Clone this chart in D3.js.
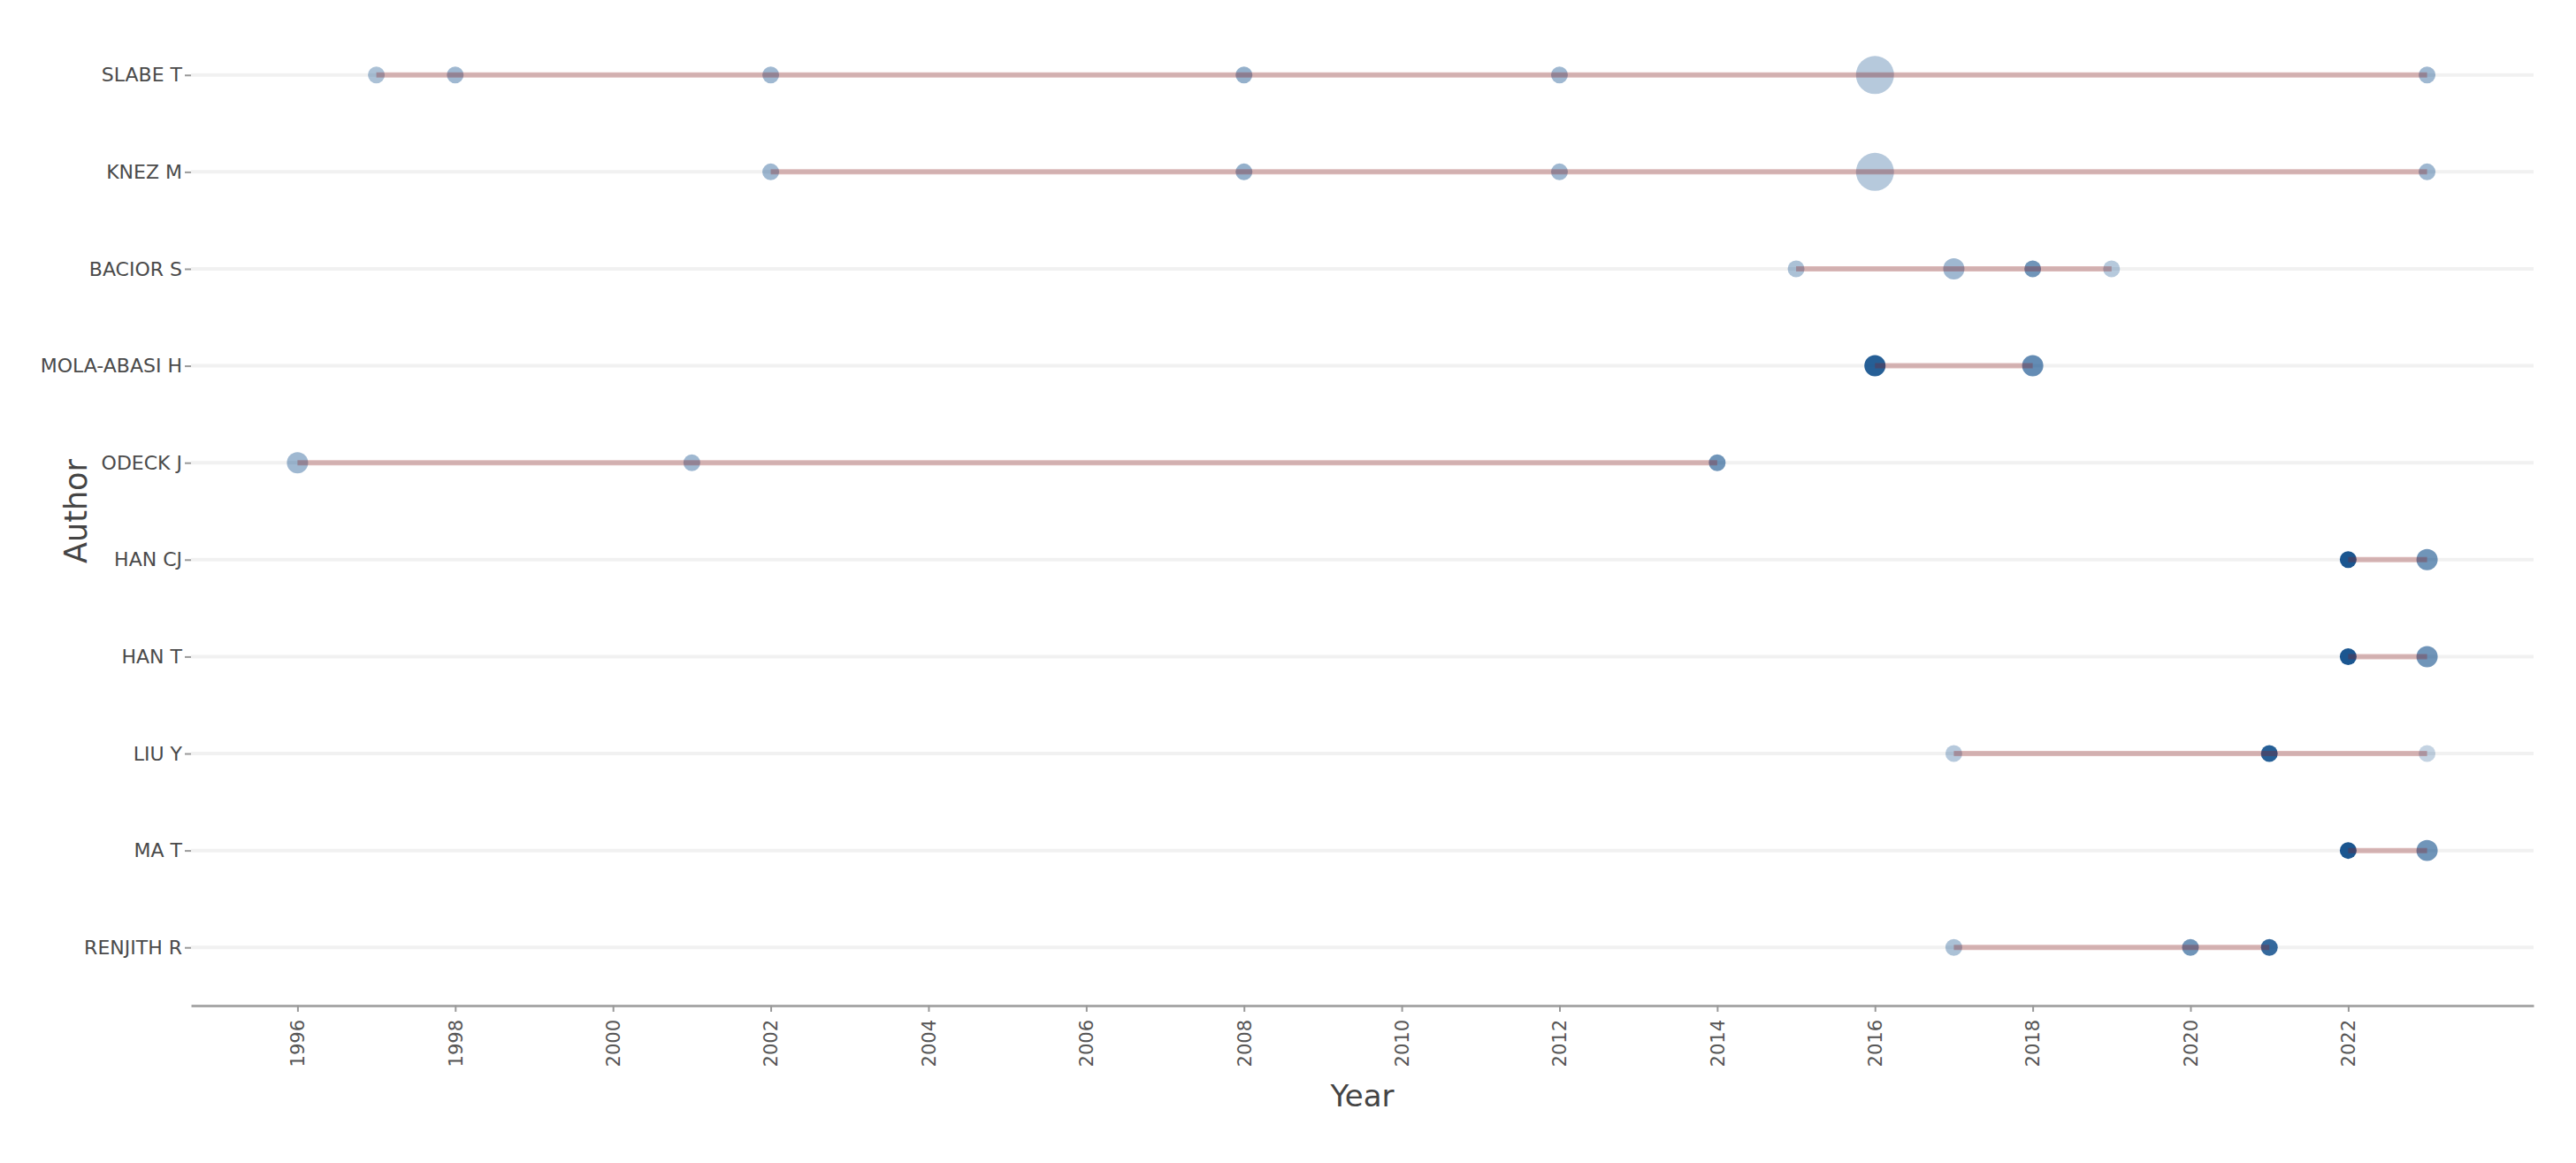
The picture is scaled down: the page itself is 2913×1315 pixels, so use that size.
<!DOCTYPE html>
<html>
<head>
<meta charset="utf-8">
<script src="https://cdn.jsdelivr.net/npm/d3@7"></script>
<style>
  body { margin: 0; background: #fff; }
  text { font-family: "DejaVu Sans", Verdana, sans-serif; }
</style>
</head>
<body>
<div id="chart"></div>
<script>
// authors top to bottom
var authors = ["SLABE T", "KNEZ M", "BACIOR S", "MOLA-ABASI H", "ODECK J",
  "HAN CJ", "HAN T", "LIU Y", "MA T", "RENJITH R"];

// publication years per author
var years = [
  [1997, 1998, 2002, 2008, 2012, 2016, 2023],
  [2002, 2008, 2012, 2016, 2023],
  [2015, 2017, 2018, 2019],
  [2016, 2018],
  [1996, 2001, 2014],
  [2022, 2023],
  [2022, 2023],
  [2017, 2021, 2023],
  [2022, 2023],
  [2017, 2020, 2021]
];

// number of articles per year (dot size)
var freq = [
  [1, 1, 1, 1, 1, 9, 1],
  [1, 1, 1, 9, 1],
  [1, 2, 1, 1],
  [2, 2],
  [2, 1, 1],
  [1, 2],
  [1, 2],
  [1, 1, 1],
  [1, 2],
  [1, 1, 1]
];

// total citations per year (dot opacity)
var tcPerYear = [
  [1.9, 2.5, 2.5, 3.1, 2.5, 1.3, 2.5],
  [2.5, 3.1, 2.5, 1.3, 2.5],
  [1.9, 2.5, 5.0, 1.3],
  [8.8, 5.6],
  [2.5, 2.5, 5.0],
  [9.4, 5.0],
  [9.4, 5.0],
  [1.3, 8.8, 0.6],
  [9.4, 5.0],
  [1.9, 5.0, 8.1]
];

var xTicks = [1996, 1998, 2000, 2002, 2004, 2006, 2008, 2010, 2012, 2014, 2016, 2018, 2020, 2022];

var width = 2913, height = 1315;
var margin = { top: 19, right: 48, bottom: 178, left: 216 };

var points = [];
authors.forEach(function (a, i) {
  years[i].forEach(function (yr, j) {
    points.push({ author: a, year: yr, freq: freq[i][j], tc: tcPerYear[i][j] });
  });
});

var minYear = d3.min(points, function (d) { return d.year; }),
  maxYear = d3.max(points, function (d) { return d.year; }),
  pad = (maxYear - minYear) * 0.05;

var x = d3.scaleLinear()
  .domain([minYear - pad, maxYear + pad])
  .range([margin.left, width - margin.right]);

var y = d3.scalePoint()
  .domain(authors)
  .range([margin.top, height - margin.bottom])
  .padding(0.6);

var size = d3.scaleSqrt().domain([1, 9]).range([9.5, 21.5]);
var alpha = d3.scaleLinear().domain([0, 10]).range([0.2, 1]);

var svg = d3.select("#chart").append("svg")
  .attr("width", width)
  .attr("height", height);

// horizontal grid
svg.append("g")
  .selectAll("line")
  .data(authors)
  .enter().append("line")
  .attr("x1", margin.left)
  .attr("x2", width - margin.right)
  .attr("y1", function (d) { return y(d); })
  .attr("y2", function (d) { return y(d); })
  .style("stroke", "#f1f1f1")
  .style("stroke-width", 4);

// dots
svg.append("g")
  .selectAll("circle")
  .data(points)
  .enter().append("circle")
  .attr("cx", function (d) { return x(d.year); })
  .attr("cy", function (d) { return y(d.author); })
  .attr("r", function (d) { return size(d.freq); })
  .style("fill", "#104E8B")
  .style("fill-opacity", function (d) { return alpha(d.tc); });

// span lines
svg.append("g")
  .selectAll("line")
  .data(authors)
  .enter().append("line")
  .attr("x1", function (d, i) { return x(d3.min(years[i])); })
  .attr("x2", function (d, i) { return x(d3.max(years[i])); })
  .attr("y1", function (d) { return y(d); })
  .attr("y2", function (d) { return y(d); })
  .style("stroke", "#8B1A1A")
  .style("stroke-opacity", 0.3)
  .style("stroke-width", 6);

// x axis
var xAxis = svg.append("g")
  .attr("transform", "translate(0," + (height - margin.bottom) + ")")
  .call(d3.axisBottom(x).tickValues(xTicks).tickFormat(d3.format("d")).tickSize(7).tickSizeOuter(0));

xAxis.select(".domain")
  .style("stroke", "#a8a8a8")
  .style("stroke-width", 3);
xAxis.selectAll(".tick line")
  .style("stroke", "#999")
  .style("stroke-width", 2);
xAxis.selectAll(".tick text")
  .attr("transform", "rotate(-90)")
  .attr("x", -16)
  .attr("y", 0)
  .attr("dy", "0.35em")
  .style("text-anchor", "end")
  .style("font-size", "21px")
  .style("fill", "#555");

// y axis
var yAxis = svg.append("g")
  .attr("transform", "translate(" + margin.left + ",0)")
  .call(d3.axisLeft(y).tickSize(7).tickPadding(3));

yAxis.select(".domain").remove();
yAxis.selectAll(".tick line")
  .style("stroke", "#999")
  .style("stroke-width", 2);
yAxis.selectAll(".tick text")
  .style("font-size", "22px")
  .style("fill", "#4a4a4a");

// axis titles
svg.append("text")
  .attr("x", (margin.left + width - margin.right) / 2)
  .attr("y", 1251)
  .style("text-anchor", "middle")
  .style("font-size", "34px")
  .style("fill", "#444")
  .text("Year");

svg.append("text")
  .attr("transform", "translate(98," + ((margin.top + height - margin.bottom) / 2) + ") rotate(-90)")
  .style("text-anchor", "middle")
  .style("font-size", "35px")
  .style("fill", "#444")
  .text("Author");
</script>
</body>
</html>
